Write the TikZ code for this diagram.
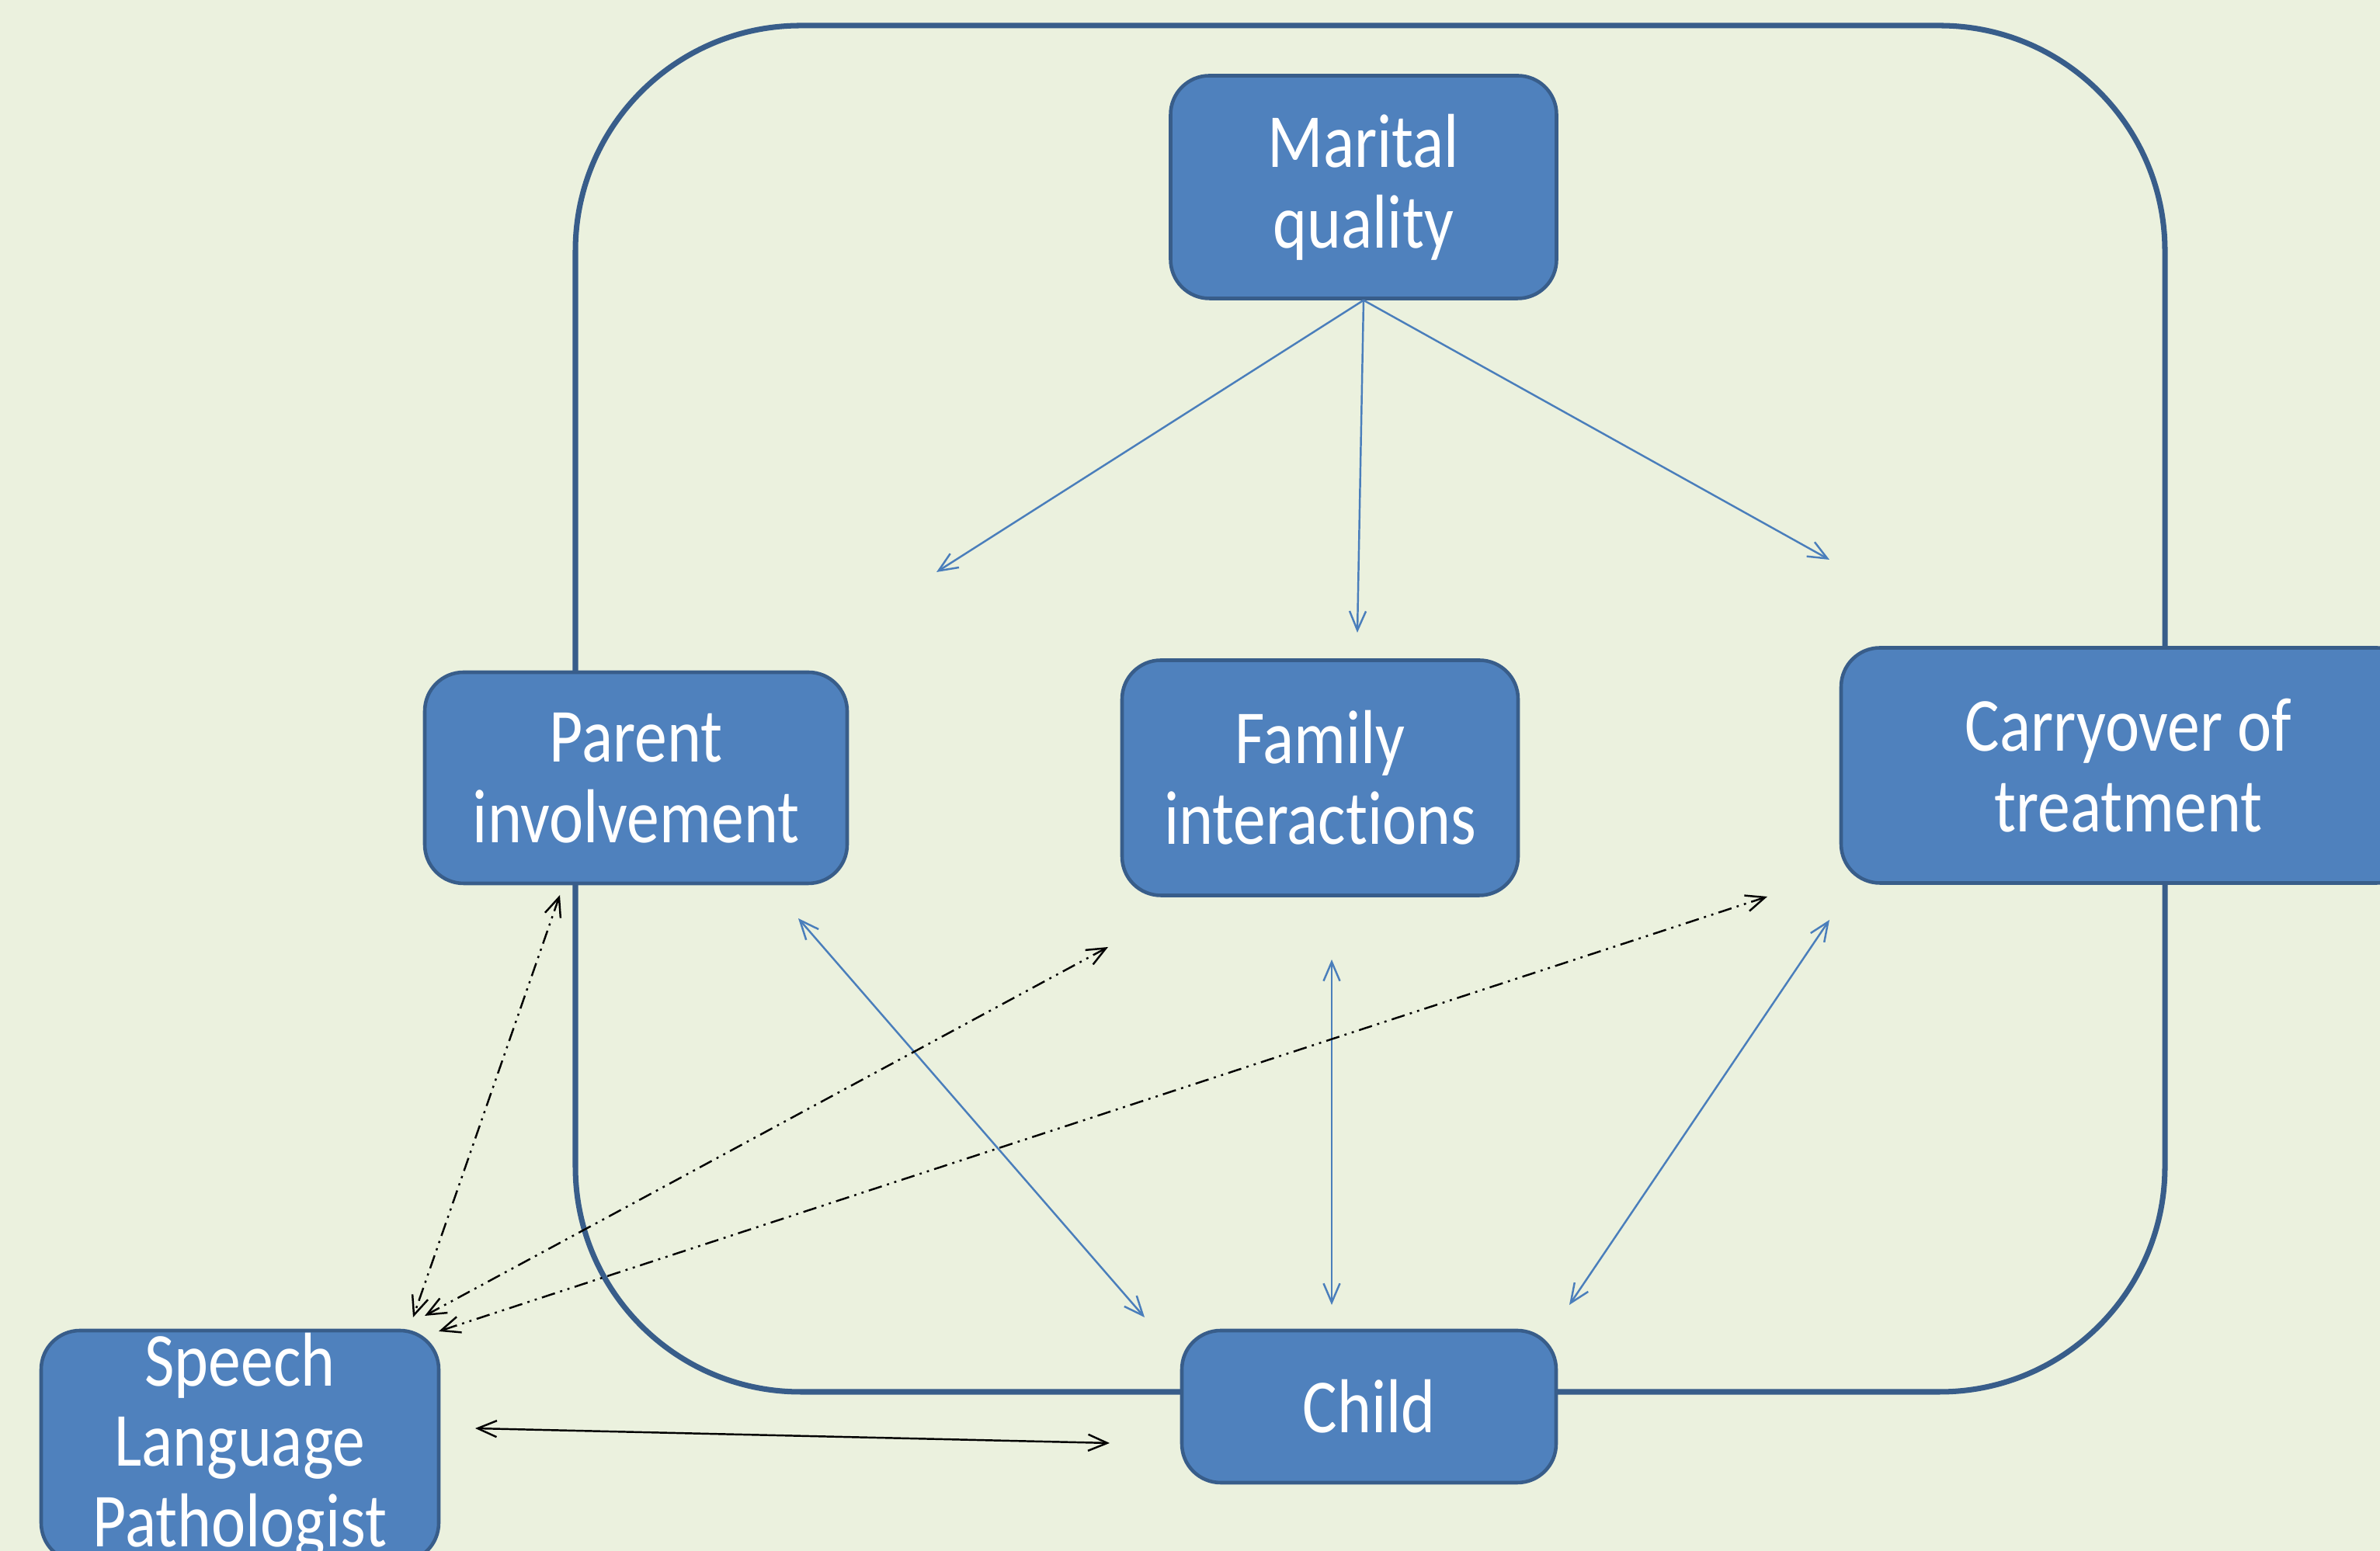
\documentclass[tikz,border=0pt]{standalone}
\usepackage{fontspec}
\setmainfont{Carlito}[FakeStretch=0.85, Ligatures=NoCommon]
\usetikzlibrary{arrows.meta}

\definecolor{slide}{HTML}{EBF1DE}
\definecolor{boxfill}{HTML}{4F81BD}
\definecolor{boxline}{HTML}{385D8A}
\definecolor{link}{HTML}{4A7EBB}

\tikzset{
    box/.style={draw=boxline, fill=boxfill, line width=1.3pt, rounded corners=0.5cm,
        text=white, align=center, inner sep=0pt,
        font=\fontsize{28}{29.5}\selectfont},
    bluelink/.style={link, line width=0.7pt},
    slplink/.style={black, line width=0.7pt,
        dash pattern=on 5pt off 2pt on 0.8pt off 2pt on 0.8pt off 2pt},
    >={Straight Barb[length=7pt,width=6pt]}
}

\begin{document}
\begin{tikzpicture}
    \useasboundingbox (0,0) rectangle (30.65,19.98);
    \clip (0,0) rectangle (30.65,19.98);
    \fill[slide] (0,0) rectangle (30.65,19.98);

    % family frame
    \draw[boxline, line width=2pt, rounded corners=2.9cm] (7.41,2.05) rectangle (27.88,19.65);

    \node[box, minimum width=4.97cm, minimum height=2.87cm] (marital) at (17.56,17.57) {Marital\\quality};
    \node[box, minimum width=5.44cm, minimum height=2.72cm] (parent) at (8.19,9.96) {Parent\\involvement};
    \node[box, minimum width=5.10cm, minimum height=3.03cm] (family) at (17.00,9.96) {Family\\interactions};
    \node[box, minimum width=7.40cm, minimum height=3.03cm] (carry) at (27.41,10.12) {Carryover of\\treatment};
    \node[box, minimum width=4.82cm, minimum height=1.96cm] (child) at (17.63,1.86) {Child};
    \node[box, minimum width=5.12cm, minimum height=2.98cm] (slp) at (3.09,1.35) {Speech\\Language\\Pathologist};

    % arrow ends
    \coordinate (m1) at (12.06,12.61);
    \coordinate (m2) at (17.48,11.83);
    \coordinate (m3) at (23.56,12.77);
    \coordinate (pc1) at (10.28,8.15);
    \coordinate (pc2) at (14.74,3.01);
    \coordinate (fc1) at (17.15,7.62);
    \coordinate (fc2) at (17.15,3.17);
    \coordinate (cc1) at (23.56,8.13);
    \coordinate (cc2) at (20.21,3.17);
    \coordinate (sp1) at (7.21,8.45);
    \coordinate (sp2) at (5.32,3.01);
    \coordinate (sf1) at (14.27,7.78);
    \coordinate (sf2) at (5.47,3.03);
    \coordinate (st1) at (22.76,8.43);
    \coordinate (st2) at (5.65,2.83);
    \coordinate (sc1) at (6.12,1.58);
    \coordinate (sc2) at (14.29,1.39);

    \draw[bluelink, ->] (marital.south) -- (m1);
    \draw[bluelink, ->] (marital.south) -- (m2);
    \draw[bluelink, ->] (marital.south) -- (m3);
    \draw[bluelink, <->] (pc1) -- (pc2);
    \draw[bluelink, <->] (fc1) -- (fc2);
    \draw[bluelink, <->] (cc1) -- (cc2);

    \draw[slplink, <->] (sp1) -- (sp2);
    \draw[slplink, <->] (sf1) -- (sf2);
    \draw[slplink, <->] (st1) -- (st2);
    \draw[black, line width=0.7pt, <->] (sc1) -- (sc2);
\end{tikzpicture}
\end{document}
